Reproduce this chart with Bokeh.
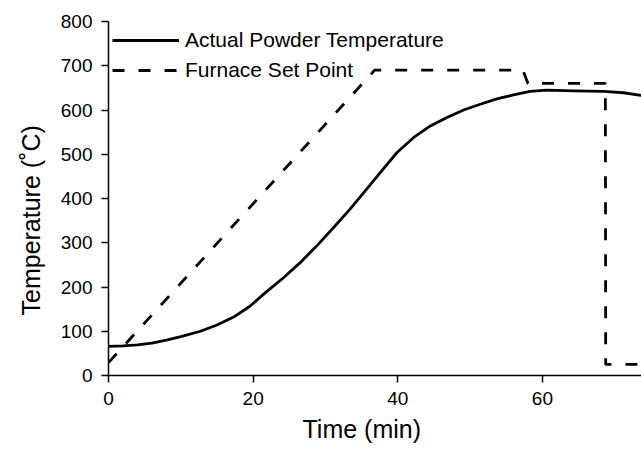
from bokeh.plotting import figure
from bokeh.models import Range1d, FixedTicker, Legend, LegendItem, Title
from bokeh.embed import file_html
from bokeh.resources import INLINE

# Actual powder temperature (min, °C)
actual_t = [0, 2, 4, 6, 8, 10, 12.7, 15, 17.3, 19.5, 21.9, 24.2, 26.5, 28.8, 31.1,
            33.4, 35.7, 37.6, 39.9, 42.2, 44.5, 46.8, 49.1, 51.4, 53.7, 56.0, 58.3,
            60.6, 64.3, 68.5, 71.2, 73.6, 75]
actual_T = [66, 67, 69, 73, 80, 88, 100, 114, 132, 156, 190, 221, 255, 293, 334,
            376, 421, 459, 504, 538, 564, 583, 600, 613, 625, 634, 642,
            645, 643, 642, 639, 633, 630]

# Furnace set point (min, °C)
set_t = [0, 36.8, 57.3, 58.0, 68.7, 68.75, 75]
set_T = [29, 690, 690, 660, 660, 25, 25]

x_ticks = [0, 20, 40, 60]
y_ticks = [0, 100, 200, 300, 400, 500, 600, 700, 800]

FONT = "Liberation Sans"

p = figure(width=641, height=451, output_backend="svg", toolbar_location=None,
           x_range=Range1d(0, 73.7), y_range=Range1d(0, 800))
p.min_border_left = 108
p.min_border_right = 0
p.min_border_top = 21
p.min_border_bottom = 76
p.outline_line_color = None
p.xgrid.visible = False
p.ygrid.visible = False
p.background_fill_color = "white"
p.border_fill_color = "white"

r1 = p.line(actual_t, actual_T, line_color="black", line_width=2.8, line_join="round")
r2 = p.line(set_t, set_T, line_color="black", line_width=2.8, line_dash="12 14")

for ax in (p.xaxis[0], p.yaxis[0]):
    ax.axis_line_color = "black"
    ax.axis_line_width = 1.5
    ax.major_tick_line_color = "black"
    ax.major_tick_line_width = 1.5
    ax.major_tick_in = 0
    ax.major_tick_out = 7
    ax.minor_tick_line_color = None
    ax.major_label_text_font = FONT
    ax.major_label_text_font_size = "19px"
    ax.major_label_text_color = "black"

p.xaxis.ticker = FixedTicker(ticks=x_ticks)
p.yaxis.ticker = FixedTicker(ticks=y_ticks)
p.xaxis.major_label_standoff = 9
p.yaxis.major_label_standoff = 9

xt = Title(text="Time (min)", align="left", offset=194, text_font=FONT,
           text_font_size="25px", text_font_style="normal", text_color="black", standoff=11)
yt = Title(text="Temperature (˚C)", align="left", offset=60, text_font=FONT,
           text_font_size="25px", text_font_style="normal", text_color="black", standoff=26)
p.add_layout(xt, "below")
p.add_layout(yt, "left")

legend = Legend(items=[LegendItem(label="Actual Powder Temperature", renderers=[r1]),
                       LegendItem(label="Furnace Set Point", renderers=[r2])],
                location="top_left")
legend.label_text_font = FONT
legend.label_text_font_size = "21px"
legend.label_text_color = "black"
legend.glyph_width = 67
legend.glyph_height = 30
legend.label_height = 30
legend.label_standoff = 6
legend.spacing = 0
legend.padding = 0
legend.margin = 4
legend.border_line_color = None
legend.background_fill_alpha = 0
p.add_layout(legend)

open("out.html", "w").write(file_html(p, INLINE))
